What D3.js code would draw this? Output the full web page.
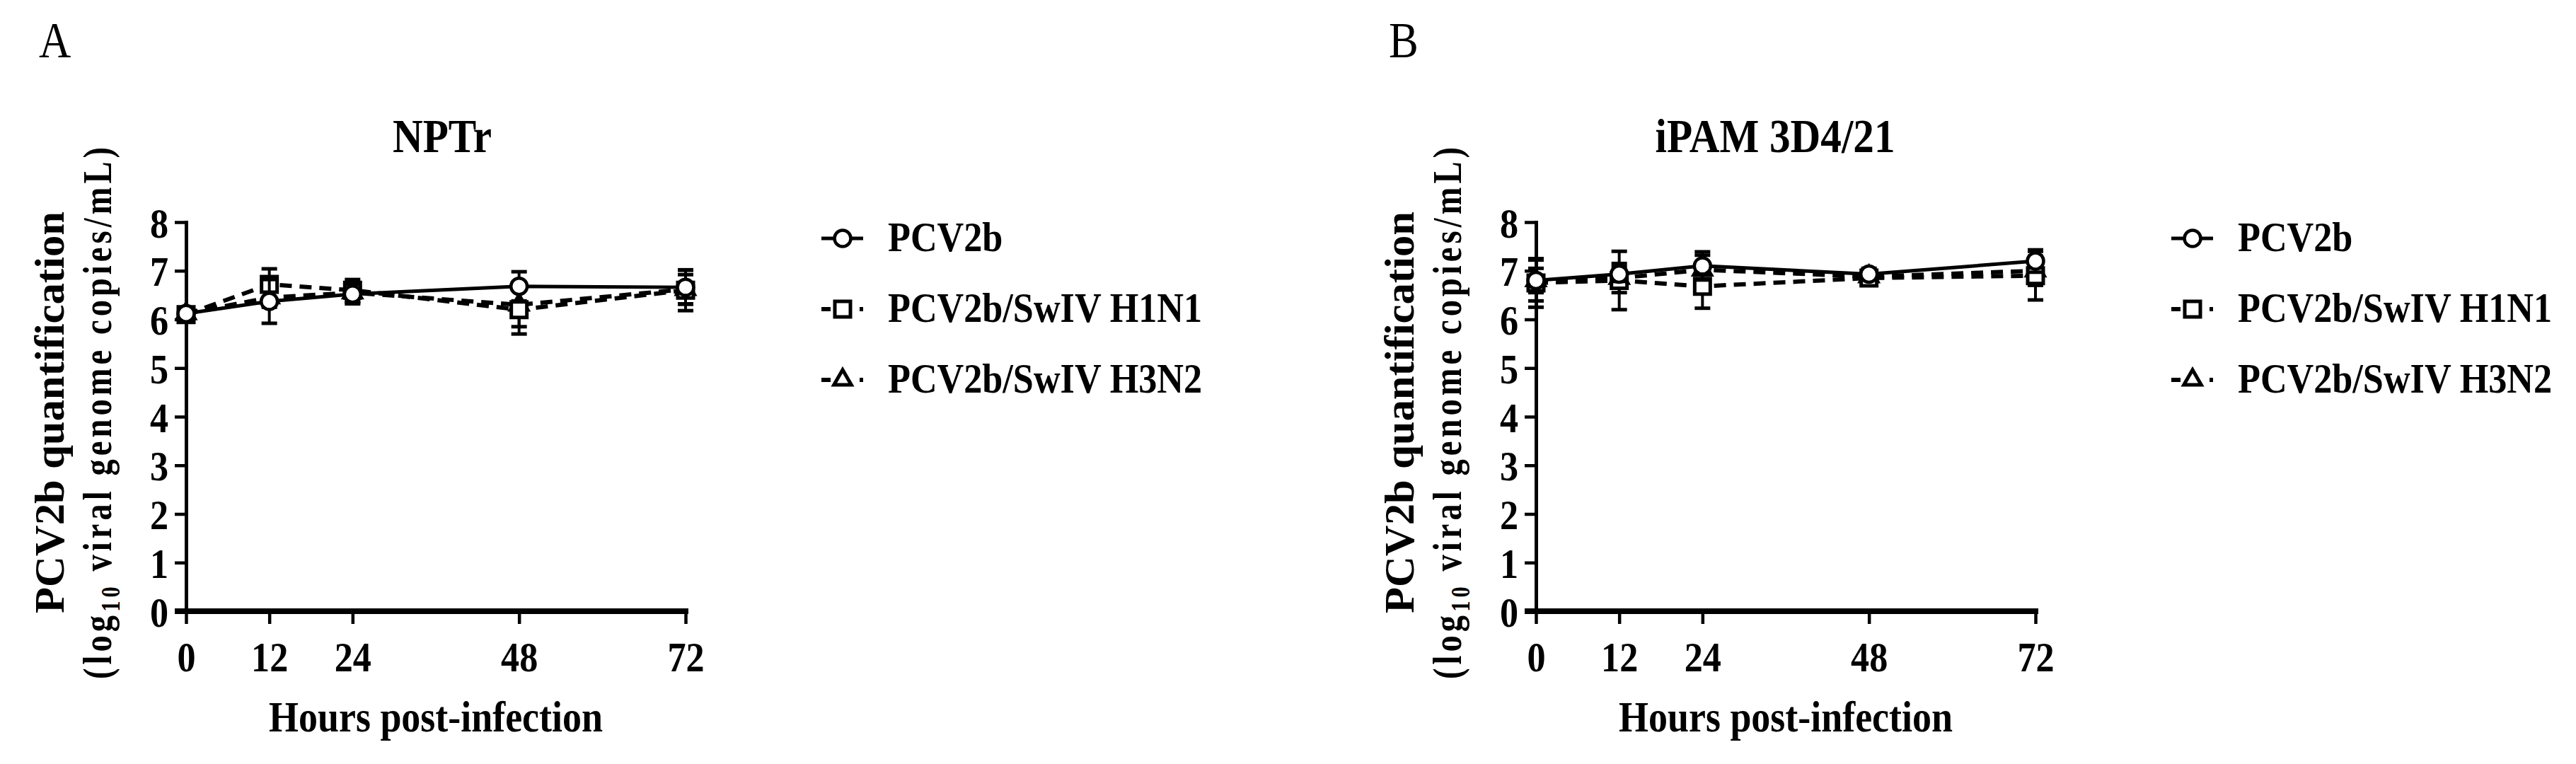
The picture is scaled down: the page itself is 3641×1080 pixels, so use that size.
<!DOCTYPE html>
<html>
<head>
<meta charset="utf-8">
<script src="https://cdn.jsdelivr.net/npm/d3@7"></script>
<style>
  body { margin: 0; background: #fff; }
  svg { display: block; }
  text { font-family: "Liberation Serif", "Times New Roman", serif; font-weight: bold; fill: #000; }
</style>
</head>
<body>
<svg id="chart" width="3641" height="1080"></svg>
<script>
// ---- data ----
const hours = [0, 12, 24, 48, 72];
const yTicks = [0, 1, 2, 3, 4, 5, 6, 7, 8];
const seriesNames = ["PCV2b", "PCV2b/SwIV H1N1", "PCV2b/SwIV H3N2"];
const panelLetters = ["A", "B"];
const panelTitles = ["NPTr", "iPAM 3D4/21"];

// panel A : NPTr
const nptrPCV2b = [6.12, 6.37, 6.52, 6.68, 6.66];
const nptrPCV2bSd = [0.08, 0.45, 0.2, 0.3, 0.35];
const nptrH1N1 = [6.1, 6.72, 6.6, 6.2, 6.6];
const nptrH1N1Sd = [0.1, 0.32, 0.22, 0.5, 0.42];
const nptrH3N2 = [6.12, 6.45, 6.55, 6.3, 6.62];
const nptrH3N2Sd = [0.08, 0.2, 0.2, 0.45, 0.3];

// panel B : iPAM 3D4/21
const ipamPCV2b = [6.8, 6.93, 7.1, 6.93, 7.2];
const ipamPCV2bSd = [0.25, 0.15, 0.29, 0.12, 0.23];
const ipamH1N1 = [6.75, 6.8, 6.68, 6.85, 6.9];
const ipamH1N1Sd = [0.5, 0.6, 0.45, 0.15, 0.5];
const ipamH3N2 = [6.8, 6.85, 7.02, 6.88, 7.0];
const ipamH3N2Sd = [0.42, 0.3, 0.3, 0.12, 0.3];

// ---- layout ----
const SQ = 0.87;               // the figure's type is a bit condensed
const plotW = 706;
const yBottom = 864, yTop = 314;

const panels = [
  { left: 263, titleX: 625, letterX: 55,
    series: [[nptrPCV2b, nptrPCV2bSd], [nptrH1N1, nptrH1N1Sd], [nptrH3N2, nptrH3N2Sd]] },
  { left: 2171, titleX: 2509, letterX: 1963,
    series: [[ipamPCV2b, ipamPCV2bSd], [ipamH1N1, ipamH1N1Sd], [ipamH3N2, ipamH3N2Sd]] }
];

const styles = [
  { dash: null, width: 5, symbol: d3.symbolCircle, size: 415 },
  { dash: "17,11", width: 6, symbol: d3.symbolSquare, size: 484 },
  { dash: "17,11", width: 6, symbol: d3.symbolTriangle, size: 260 }
];

const svg = d3.select('#chart');
svg.append('rect').attr('width', 3641).attr('height', 1080).attr('fill', '#fff');

function label(parent, x, y, str, size, opts = {}) {
  const g = parent.append('g')
    .attr('transform', `translate(${x},${y}) rotate(${opts.rotate || 0}) scale(${opts.sx || SQ},1)`);
  return g.append('text')
    .attr('font-size', size)
    .attr('text-anchor', opts.anchor || 'start')
    .style('font-weight', opts.weight || 'bold')
    .text(str);
}

function drawPanel(cfg, idx) {
  const g = svg.append('g').attr('class', 'panel');
  const x = d3.scaleLinear().domain([0, 72]).range([cfg.left, cfg.left + plotW]);
  const y = d3.scaleLinear().domain([0, 8]).range([yBottom, yTop]);

  // letter + title
  label(g, cfg.letterX, 81, panelLetters[idx], 72, { weight: 'normal' });
  label(g, cfg.titleX, 215, panelTitles[idx], 68, { anchor: 'middle' });

  // y axis
  const yAxis = g.append('g')
    .attr('transform', `translate(${cfg.left},0)`)
    .call(d3.axisLeft(y).tickValues(yTicks).tickSize(16).tickSizeOuter(0).tickFormat(d3.format('d')));
  yAxis.select('.domain').attr('stroke', '#000').attr('stroke-width', 5).attr('stroke-linecap', 'square');
  yAxis.selectAll('.tick line').attr('stroke', '#000').attr('stroke-width', 4.5);
  yAxis.selectAll('.tick text')
    .attr('x', 0).attr('dy', '0.35em')
    .attr('transform', `translate(-25,0) scale(${SQ},1)`)
    .attr('font-size', 60).attr('font-family', null).attr('fill', '#000');

  // x axis
  const xAxis = g.append('g')
    .attr('transform', `translate(0,${yBottom})`)
    .call(d3.axisBottom(x).tickValues(hours).tickSize(18).tickSizeOuter(0));
  xAxis.select('.domain').attr('stroke', '#000').attr('stroke-width', 8)
    .attr('d', `M${cfg.left - 16},0H${cfg.left + plotW + 4}`);
  xAxis.selectAll('.tick line').attr('stroke', '#000').attr('stroke-width', 4.5);
  xAxis.selectAll('.tick text')
    .attr('y', 85).attr('dy', 0)
    .attr('transform', `scale(${SQ},1)`)
    .attr('font-size', 60).attr('font-family', null).attr('fill', '#000');

  // axis titles
  label(g, (cfg.left + cfg.left + plotW) / 2, 1034, 'Hours post-infection', 62, { anchor: 'middle' });

  const yl1 = label(g, cfg.left - 173, 583, 'PCV2b quantification', 60, { anchor: 'middle', rotate: -90, sx: 1 });
  yl1.attr('textLength', 568).attr('lengthAdjust', 'spacingAndGlyphs');

  const yl2 = g.append('g')
    .attr('transform', `translate(${cfg.left - 106},584) rotate(-90) scale(0.8,1)`)
    .append('text').attr('font-size', 58).attr('text-anchor', 'middle');
  yl2.append('tspan').text('(log');
  yl2.append('tspan').attr('font-size', 38).attr('dy', 12).text('10');
  yl2.append('tspan').attr('dy', -12).text(' viral genome copies/mL)');
  yl2.attr('textLength', 752 / 0.8).attr('lengthAdjust', 'spacing');

  // lines
  const line = d3.line().x((d, i) => x(hours[i])).y(d => y(d));
  cfg.series.forEach(([mean], s) => {
    g.append('path')
      .attr('d', line(mean))
      .attr('fill', 'none')
      .attr('stroke', '#000')
      .attr('stroke-width', styles[s].width)
      .attr('stroke-dasharray', styles[s].dash);
  });

  // error bars + markers, last series first so the circle sits on top
  [2, 1, 0].forEach(s => {
    const [mean, sd] = cfg.series[s];
    const eb = g.append('g');
    hours.forEach((h, i) => {
      const cx = x(h);
      eb.append('line').attr('x1', cx).attr('x2', cx)
        .attr('y1', y(mean[i] - sd[i])).attr('y2', y(mean[i] + sd[i]))
        .attr('stroke', '#000').attr('stroke-width', 4);
      [mean[i] - sd[i], mean[i] + sd[i]].forEach(v => {
        eb.append('line').attr('x1', cx - 11).attr('x2', cx + 11)
          .attr('y1', y(v)).attr('y2', y(v))
          .attr('stroke', '#000').attr('stroke-width', 5);
      });
    });
    g.append('g').selectAll('path')
      .data(mean)
      .join('path')
      .attr('transform', (d, i) => `translate(${x(hours[i])},${y(d)})`)
      .attr('d', d3.symbol().type(styles[s].symbol).size(styles[s].size))
      .attr('fill', '#fff')
      .attr('stroke', '#000')
      .attr('stroke-width', s === 0 ? 4.5 : 5);
  });

  // legend
  const lx = cfg.left + 898;
  const legend = g.append('g').attr('transform', `translate(${lx},0)`);
  seriesNames.forEach((name, s) => {
    const base = 355 + s * 100;
    const cy = base - 18;
    const row = legend.append('g');
    if (s === 0) {
      row.append('line').attr('x1', 0).attr('x2', 59).attr('y1', cy).attr('y2', cy)
        .attr('stroke', '#000').attr('stroke-width', 5);
    } else {
      row.append('line').attr('x1', 0).attr('x2', 13).attr('y1', cy).attr('y2', cy)
        .attr('stroke', '#000').attr('stroke-width', 6);
      row.append('line').attr('x1', 54).attr('x2', 59).attr('y1', cy).attr('y2', cy)
        .attr('stroke', '#000').attr('stroke-width', 6);
    }
    row.append('path')
      .attr('transform', `translate(30,${cy})`)
      .attr('d', d3.symbol().type(styles[s].symbol).size(styles[s].size))
      .attr('fill', '#fff').attr('stroke', '#000')
      .attr('stroke-width', s === 0 ? 4.5 : 5);
    label(row, 94, base, name, 60);
  });
}

panels.forEach(drawPanel);
</script>
</body>
</html>
